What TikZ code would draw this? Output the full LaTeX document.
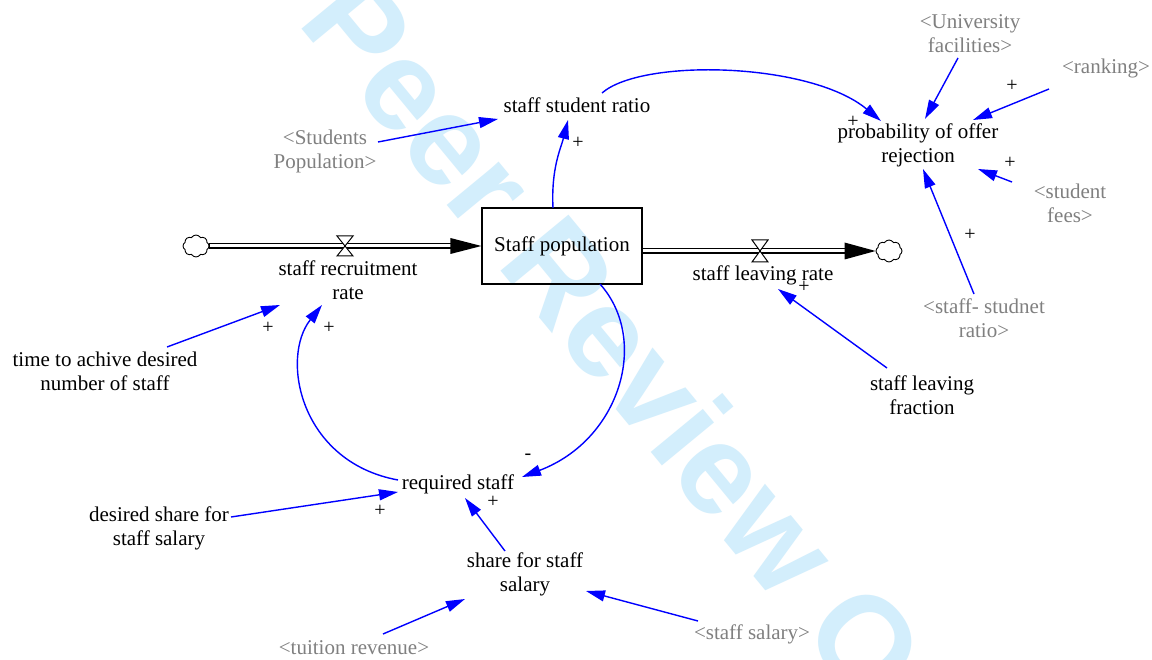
\documentclass[tikz,border=0pt]{standalone}
\usepackage{fontspec}
\setmainfont{Liberation Serif}
\newfontfamily\wmfont{Liberation Sans}
\usetikzlibrary{arrows.meta,shapes.symbols}
\definecolor{lblgray}{RGB}{128,128,128}
\definecolor{wmcyan}{RGB}{211,238,252}
\definecolor{linkblue}{RGB}{0,0,255}
\begin{document}
\begin{tikzpicture}[x=1pt,y=-1pt,
  txt/.style={font=\rmfamily\fontsize{21}{24}\selectfont, align=center, inner sep=0pt, text=black},
  ghost/.style={txt, text=lblgray},
  sgn/.style={font=\rmfamily\fontsize{20}{20}\selectfont, inner sep=0pt, text=black},
  link/.style={draw=linkblue, line width=1.4pt, -{Triangle[length=19pt,width=11pt]}},
  stockbox/.style={txt, draw, line width=1.2pt, minimum width=160pt, minimum height=76pt},
  source/.style={cloud, draw, cloud puffs=8, cloud puff arc=120, aspect=1.2, minimum width=26pt, minimum height=22pt, inner sep=0pt, line width=0.9pt, fill=white},
  pipeout/.style={line width=6pt, draw=black},
  pipein/.style={line width=3pt, draw=white},
  valveshape/.style={draw=black, fill=white, line width=1pt, line join=miter},
  pipetip/.style={fill=black}
]
\clip (0,0) rectangle (1152,660);
\fill[white] (0,0) rectangle (1152,660);
% watermark
\node[rotate=-50.5, anchor=base west, inner sep=0pt, text=wmcyan, font=\wmfont\bfseries\fontsize{128}{128}\selectfont] (wm) at (143,-164) {For Peer Review Only};

% stock and flows
\node[stockbox] (sp) at (562,246) {Staff population};
\node[source] (cL) at (196,246) {};
\node[source] (cR) at (889,251) {};
\coordinate (vL) at (345,246);
\coordinate (vR) at (760,251);

\draw[pipeout] (cL.east) -- ([xshift=-28pt]sp.west);
\draw[pipein] ([xshift=1pt]cL.east) -- ([xshift=-27pt]sp.west);
\fill[pipetip] (sp.west) -- ([shift={(-31,-8)}]sp.west) -- ([shift={(-31,8)}]sp.west) -- cycle;

\draw[pipeout] ([shift={(0,5)}]sp.east) -- ([xshift=-29pt]cR.west);
\draw[pipein] ([shift={(0,5)}]sp.east) -- ([xshift=-28pt]cR.west);
\fill[pipetip] (cR.west) -- ([shift={(-31,-8.5)}]cR.west) -- ([shift={(-31,8.5)}]cR.west) -- cycle;

\draw[valveshape] ([shift={(-8,-10)}]vL) -- ([shift={(8,-10)}]vL) -- ([shift={(-8,10)}]vL) -- ([shift={(8,10)}]vL) -- cycle;
\draw[valveshape] ([shift={(-8,-11)}]vR) -- ([shift={(8,-11)}]vR) -- ([shift={(-8,11)}]vR) -- ([shift={(8,11)}]vR) -- cycle;

% variables
\node[txt] (srr) at (348,280) {staff recruitment\\rate};
\node[txt] (slr) at (763,275) {staff leaving rate};
\node[txt] (ssr) at (577,105) {staff student ratio};
\node[ghost] (stup) at (325,151) {<Students\\Population>};
\node[txt] (por) at (918,145) {probability of offer\\rejection};
\node[ghost] (uf) at (970,34) {<University\\facilities>};
\node[ghost] (rank) at (1106,68) {<ranking>};
\node[ghost] (sf) at (1070,203) {<student\\fees>};
\node[ghost] (ssr2) at (984,318) {<staff- studnet\\ratio>};
\node[txt] (slf) at (922,395) {staff leaving\\fraction};
\node[txt] (tad) at (105,371) {time to achive desired\\number of staff};
\node[txt] (rs) at (458,484) {required staff};
\node[txt] (dss) at (159,528) {desired share for\\staff salary};
\node[txt] (sfs) at (525,574) {share for staff\\salary};
\node[ghost] (tr) at (354,648) {<tuition revenue>};
\node[ghost] (ssal) at (752,634) {<staff salary>};

% links
\draw[link] ([shift={(53,-9)}]stup.center) -- ([shift={(-79,14)}]ssr.center);
\draw[link] ([shift={(-9,-38)}]sp.center) .. controls +(-2,-40) and +(-7,28) .. ([shift={(-9,15)}]ssr.center);
\draw[link] ([shift={(25,-12)}]ssr.center) .. controls +(40,-35) and +(-71,-59) .. ([shift={(-37,-24)}]por.center);
\draw[link] ([shift={(-12,24)}]uf.center) -- ([shift={(7,-26)}]por.center);
\draw[link] ([shift={(-57,21)}]rank.center) -- ([shift={(55,-25)}]por.center);
\draw[link] ([shift={(-58,-21)}]sf.center) -- ([shift={(60,24)}]por.center);
\draw[link] ([shift={(-10,-24)}]ssr2.center) -- ([shift={(5,24)}]por.center);
\draw[link] ([shift={(-35,-27)}]slf.center) -- ([shift={(15,14)}]slr.center);
\draw[link] ([shift={(62,-24)}]tad.center) -- ([shift={(-68,25)}]srr.center);
\draw[link] ([shift={(-60,-4)}]rs.center) .. controls +(-98,-18) and +(-42,53) .. ([shift={(-26,25)}]srr.center);
\draw[link] ([shift={(38,38)}]sp.center) .. controls +(50,56) and +(98,-37) .. ([shift={(64,-7)}]rs.center);
\draw[link] ([shift={(72,-11)}]dss.center) -- ([shift={(-60,8)}]rs.center);
\draw[link] ([shift={(-20,-23)}]sfs.center) -- ([shift={(7,14)}]rs.center);
\draw[link] ([shift={(29,-14)}]tr.center) -- ([shift={(-60,25)}]sfs.center);
\draw[link] ([shift={(-54,-13)}]ssal.center) -- ([shift={(61,17)}]sfs.center);

% polarity signs
\node[sgn] (p1) at (578,143) {+};
\node[sgn] (p2) at (853,122) {+};
\node[sgn] (p3) at (1012,86) {+};
\node[sgn] (p4) at (1010,163) {+};
\node[sgn] (p5) at (970,235) {+};
\node[sgn] (p6) at (804,287) {+};
\node[sgn] (p7) at (268,328) {+};
\node[sgn] (p8) at (329,328) {+};
\node[sgn] (m1) at (528,457) {-};
\node[sgn] (p9) at (380,511) {+};
\node[sgn] (p10) at (493,502) {+};
\end{tikzpicture}
\end{document}
